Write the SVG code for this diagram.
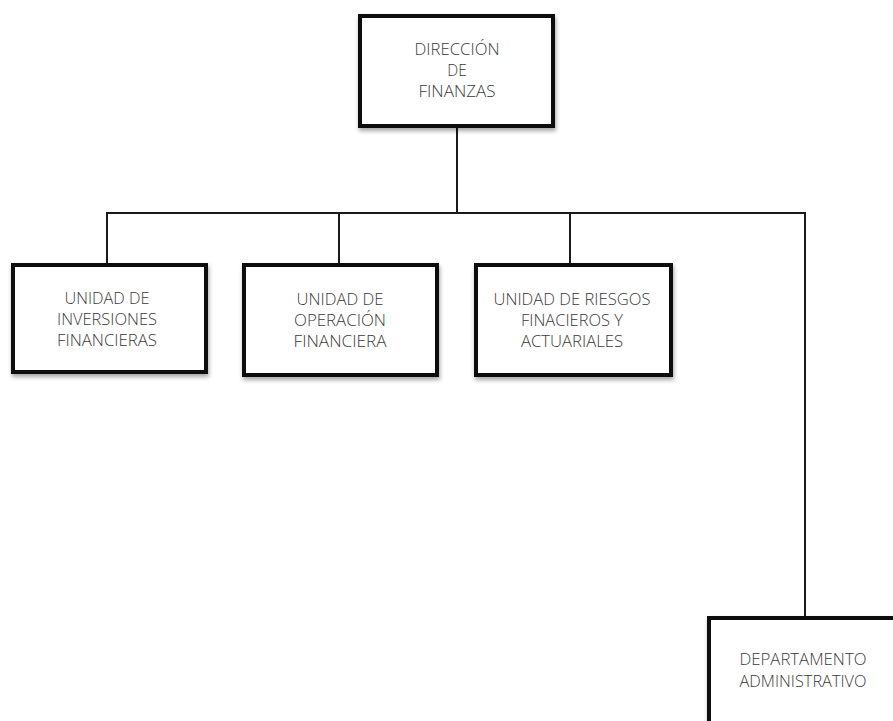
<svg xmlns="http://www.w3.org/2000/svg" width="893" height="721" viewBox="0 0 893 721">
<defs>
<filter id="sh" x="-10%" y="-10%" width="125%" height="130%">
<feDropShadow dx="1" dy="3" stdDeviation="2" flood-color="#000" flood-opacity="0.35"/>
</filter>
</defs>
<style>
.box{fill:#fff;stroke:#111;stroke-width:4;filter:url(#sh)}
.ln{stroke:#1a1a1a;stroke-width:2;fill:none}
text{font-family:"Open Sans","Liberation Sans",sans-serif;font-size:15.5px;font-weight:300;fill:#3a3a3a;text-anchor:middle}
</style>
<rect width="893" height="721" fill="#fff"/>
<g id="connectors">
<path class="ln" d="M457 126V213M107 213H805M107 212V264M339 212V264M570 212V264M805 212V618"/>
</g>
<g id="direccion">
<rect class="box" x="360" y="16" width="193" height="110"/>
<text x="457" y="55" textLength="85" lengthAdjust="spacingAndGlyphs">DIRECCIÓN</text>
<text x="457" y="76">DE</text>
<text x="457" y="97" textLength="77" lengthAdjust="spacingAndGlyphs">FINANZAS</text>
</g>
<g id="inversiones">
<rect class="box" x="13" y="265" width="193" height="107"/>
<text x="107" y="304" textLength="85" lengthAdjust="spacingAndGlyphs">UNIDAD DE</text>
<text x="107" y="325" textLength="100" lengthAdjust="spacingAndGlyphs">INVERSIONES</text>
<text x="107" y="346" textLength="100" lengthAdjust="spacingAndGlyphs">FINANCIERAS</text>
</g>
<g id="operacion">
<rect class="box" x="244" y="265" width="193" height="110"/>
<text x="340" y="305" textLength="87" lengthAdjust="spacingAndGlyphs">UNIDAD DE</text>
<text x="340" y="326" textLength="92" lengthAdjust="spacingAndGlyphs">OPERACIÓN</text>
<text x="340" y="347" textLength="93" lengthAdjust="spacingAndGlyphs">FINANCIERA</text>
</g>
<g id="riesgos">
<rect class="box" x="476" y="265" width="195" height="110"/>
<text x="572" y="305" textLength="157" lengthAdjust="spacingAndGlyphs">UNIDAD DE RIESGOS</text>
<text x="572" y="326" textLength="102" lengthAdjust="spacingAndGlyphs">FINACIEROS Y</text>
<text x="572" y="347" textLength="102" lengthAdjust="spacingAndGlyphs">ACTUARIALES</text>
</g>
<g id="administrativo">
<rect class="box" x="709" y="618" width="200" height="120"/>
<text x="803" y="665" textLength="127" lengthAdjust="spacingAndGlyphs">DEPARTAMENTO</text>
<text x="803" y="687" textLength="127" lengthAdjust="spacingAndGlyphs">ADMINISTRATIVO</text>
</g>
</svg>
